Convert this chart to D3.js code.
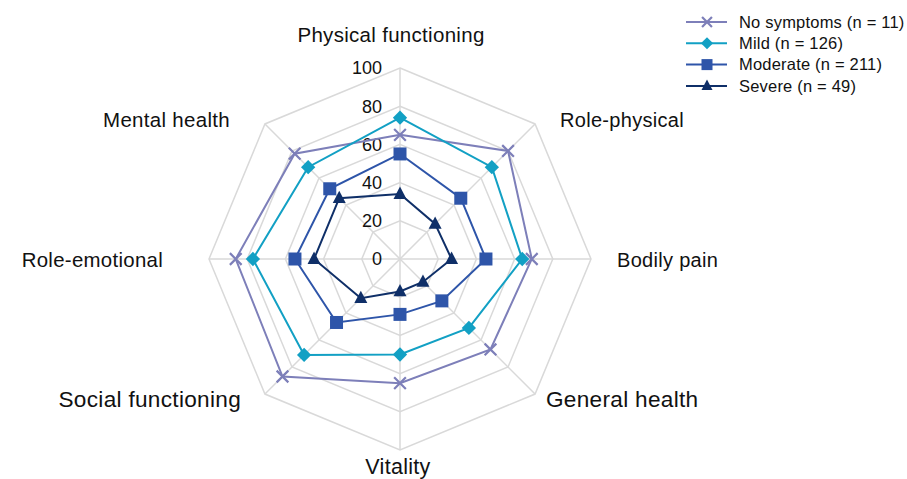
<!DOCTYPE html>
<html>
<head>
<meta charset="utf-8">
<script src="https://cdn.jsdelivr.net/npm/d3@7"></script>
<style>
  body { margin: 0; background: #fff; }
  svg { font-family: "Liberation Sans", Arial, sans-serif; }
</style>
</head>
<body>
<svg width="907" height="479"></svg>
<script>
const categories = ['Physical functioning', 'Role-physical', 'Bodily pain', 'General health',
  'Vitality', 'Social functioning', 'Role-emotional', 'Mental health'];
const seriesNames = ['No symptoms (n = 11)', 'Mild (n = 126)', 'Moderate (n = 211)', 'Severe (n = 49)'];
const noSymptoms = [65, 80, 69, 67, 65, 87, 86, 78];
const mild = [74, 68, 64, 51, 50, 71, 77, 68];
const moderate = [55, 45, 45, 31, 29, 47, 55, 52];
const severe = [34, 26, 27, 17, 17, 29, 45, 45];
const tickValues = [0, 20, 40, 60, 80, 100];

const svg = d3.select('svg');
const cx = 400, cy = 259, R = 191;

const series = [
  { name: seriesNames[0], values: noSymptoms, color: '#7d7fb9', marker: 'x' },
  { name: seriesNames[1], values: mild, color: '#12a0c4', marker: 'diamond' },
  { name: seriesNames[2], values: moderate, color: '#2e55a9', marker: 'square' },
  { name: seriesNames[3], values: severe, color: '#0f2f68', marker: 'triangle' }
];

const r = d3.scaleLinear().domain([0, 100]).range([0, R]);
const angle = d3.scalePoint().domain(categories).range([0, 2 * Math.PI * 7 / 8]);

const pt = (cat, v) => {
  const a = angle(cat);
  return [cx + r(v) * Math.sin(a), cy - r(v) * Math.cos(a)];
};

const g = svg.append('g');

// grid rings
tickValues.filter(d => d > 0).forEach(t => {
  g.append('polygon')
    .attr('points', categories.map(c => pt(c, t).join(',')).join(' '))
    .attr('fill', 'none')
    .attr('stroke', '#d9d9d9')
    .attr('stroke-width', 1.5);
});

// spokes
categories.forEach(c => {
  const [x, y] = pt(c, 100);
  g.append('line')
    .attr('x1', cx).attr('y1', cy).attr('x2', x).attr('y2', y)
    .attr('stroke', '#d9d9d9')
    .attr('stroke-width', 1.5);
});

// tick labels
g.selectAll('.tick')
  .data(tickValues)
  .join('text')
    .attr('x', cx - 18)
    .attr('y', d => cy - r(d))
    .attr('dy', '0.35em')
    .attr('text-anchor', 'end')
    .attr('font-size', 18)
    .attr('fill', '#111')
    .text(d => d);

// category labels: x, y, anchor, size
const labelPos = {
  'Physical functioning': [391, 42, 'middle', 20.5],
  'Role-physical': [560, 127, 'start', 20],
  'Bodily pain': [617, 267, 'start', 20],
  'General health': [546, 407, 'start', 22.6],
  'Vitality': [398, 474, 'middle', 21.5],
  'Social functioning': [241, 407, 'end', 22.6],
  'Role-emotional': [163, 267, 'end', 20.4],
  'Mental health': [230, 127, 'end', 20.5]
};
g.selectAll('.cat')
  .data(categories)
  .join('text')
    .attr('x', d => labelPos[d][0])
    .attr('y', d => labelPos[d][1])
    .attr('text-anchor', d => labelPos[d][2])
    .attr('font-size', d => labelPos[d][3])
    .attr('letter-spacing', 0.3)
    .attr('fill', '#111')
    .text(d => d);

function drawMarker(sel, type, color, size) {
  if (type === 'x') {
    const s = size * 0.45;
    sel.append('path')
      .attr('d', `M${-s},${-s}L${s},${s}M${-s},${s}L${s},${-s}`)
      .attr('stroke', color).attr('stroke-width', 2.2).attr('fill', 'none');
  } else if (type === 'diamond') {
    const s = size * 0.55;
    sel.append('path')
      .attr('d', `M0,${-s}L${s},0L0,${s}L${-s},0Z`)
      .attr('fill', color);
  } else if (type === 'square') {
    const s = size * 0.5;
    sel.append('rect')
      .attr('x', -s).attr('y', -s).attr('width', 2 * s).attr('height', 2 * s)
      .attr('fill', color);
  } else {
    const s = size * 0.5;
    sel.append('path')
      .attr('d', `M0,${-s * 1.15}L${s},${s * 0.75}L${-s},${s * 0.75}Z`)
      .attr('fill', color);
  }
}

const line = d3.line().curve(d3.curveLinearClosed);

series.forEach(s => {
  const pts = categories.map((c, i) => pt(c, s.values[i]));
  g.append('path')
    .attr('d', line(pts))
    .attr('fill', 'none')
    .attr('stroke', s.color)
    .attr('stroke-width', 2);
  pts.forEach(p => {
    const m = g.append('g').attr('transform', `translate(${p[0]},${p[1]})`);
    drawMarker(m, s.marker, s.color, 13);
  });
});

// legend
const legend = svg.append('g').attr('transform', 'translate(686, 22)');
series.forEach((s, i) => {
  const row = legend.append('g').attr('transform', `translate(0, ${i * 21.3})`);
  row.append('line')
    .attr('x1', 0).attr('x2', 41)
    .attr('stroke', s.color).attr('stroke-width', 2);
  const m = row.append('g').attr('transform', 'translate(21,0)');
  drawMarker(m, s.marker, s.color, 11);
  row.append('text')
    .attr('x', 53)
    .attr('dy', '0.35em')
    .attr('font-size', 16.5)
    .attr('letter-spacing', 0.2)
    .attr('fill', '#111')
    .text(s.name);
});
</script>
</body>
</html>
